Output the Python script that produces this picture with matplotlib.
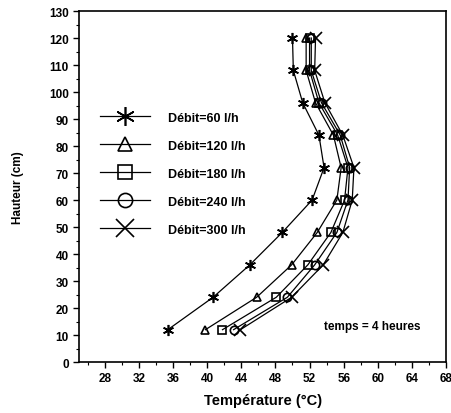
import matplotlib
matplotlib.use("Agg")
import matplotlib.pyplot as plt
from matplotlib.ticker import MultipleLocator

plt.rcParams['font.family'] = ['Liberation Sans', 'DejaVu Sans']
plt.rcParams['font.weight'] = 'bold'

hauteur = [12, 24, 36, 48, 60, 72, 84, 96, 108, 120]
t60  = [35.4, 40.7, 45.0, 48.8, 52.3, 53.7, 53.1, 51.2, 50.1, 50.0]
t120 = [39.8, 45.8, 49.9, 52.9, 55.2, 55.7, 54.8, 52.7, 51.6, 51.6]
t180 = [41.8, 48.1, 51.8, 54.5, 56.1, 56.5, 55.3, 53.1, 52.0, 52.0]
t240 = [43.1, 49.4, 52.6, 55.2, 56.5, 56.7, 55.6, 53.4, 52.2, 52.2]
t300 = [43.9, 49.9, 53.6, 55.9, 57.0, 57.2, 55.9, 53.8, 52.6, 52.7]
labels = ['Débit=60 l/h', 'Débit=120 l/h', 'Débit=180 l/h', 'Débit=240 l/h', 'Débit=300 l/h']
series = [t60, t120, t180, t240, t300]
markers = [(6, 2, 0), '^', 's', 'o', 'x']
msizes = [8, 6, 6, 6, 8]

fig = plt.figure(figsize=(4.52, 4.14), dpi=100)
ax = fig.add_axes([0.175, 0.123, 0.812, 0.848])

for t, lab, m, ms in zip(series, labels, markers, msizes):
    ax.plot(t, hauteur, color='black', lw=0.9, marker=m, markersize=ms,
            markerfacecolor='none', markeredgecolor='black', markeredgewidth=1.2,
            label=lab)

ax.set_xlim(25, 68)
ax.set_ylim(0, 130)
ax.set_xticks(range(28, 69, 4))
ax.xaxis.set_minor_locator(MultipleLocator(2))
ax.yaxis.set_major_locator(MultipleLocator(10))
ax.yaxis.set_minor_locator(MultipleLocator(5))
ax.tick_params(which='major', direction='out', length=4, width=1, labelsize=8.5)
ax.tick_params(which='minor', direction='out', length=2.5, width=0.8)
for lbl in ax.get_xticklabels() + ax.get_yticklabels():
    lbl.set_fontweight('bold')
for s in ax.spines.values():
    s.set_linewidth(1.2)

ax.set_xlabel('Température (°C)', fontsize=10.5, fontweight='bold', labelpad=6)
ax.set_ylabel('Hauteur (cm)', fontsize=8.5, fontweight='bold', labelpad=18)

ax.text(59.4, 13.5, 'temps = 4 heures', fontsize=8.5, ha='center', va='center', fontweight='bold')

leg = ax.legend(loc='upper left', bbox_to_anchor=(0.044, 0.727), frameon=False,
                fontsize=9, handlelength=4.0, labelspacing=1.28, markerscale=1.7,
                handletextpad=1.4, borderaxespad=0)
for txt in leg.get_texts():
    txt.set_fontweight('bold')

fig.savefig('out.png', dpi=100)
